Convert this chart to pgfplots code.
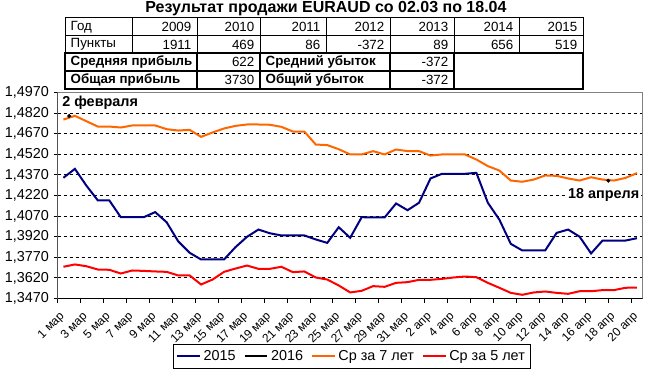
\documentclass[border=0pt]{standalone}
\usepackage{fontspec}
\setmainfont{Liberation Sans}
\usepackage{pgfplots}
\pgfplotsset{compat=1.18}
\definecolor{navy}{RGB}{0,0,128}
\definecolor{xlorange}{RGB}{255,102,0}
\definecolor{xlred}{RGB}{255,0,0}
\newcommand{\tf}{\fontsize{10}{12}\selectfont}
\newcommand{\lf}{\fontsize{10.8}{13}\selectfont}
\newcommand{\xf}{\fontsize{9}{11}\selectfont}
\begin{document}
\begin{tikzpicture}
\path[use as bounding box] (0,0) rectangle (487.5pt,276pt);
\begin{axis}[
  at={(43.275pt,52.125pt)}, anchor=south west,
  scale only axis, width=438.75pt, height=154.5pt,
  xmin=-0.5, xmax=50.5, ymin=1.347, ymax=1.497,
  ytick={1.347,1.362,1.377,1.392,1.407,1.422,1.437,1.452,1.467,1.482,1.497},
  yticklabel style={font=\lf, /pgf/number format/fixed, /pgf/number format/fixed zerofill, /pgf/number format/precision=4, /pgf/number format/use comma, /pgf/number format/assume math mode=true},
  xtick={0,2,...,50},
  xticklabels={1 мар,3 мар,5 мар,7 мар,9 мар,11 мар,13 мар,15 мар,17 мар,19 мар,21 мар,23 мар,25 мар,27 мар,29 мар,31 мар,2 апр,4 апр,6 апр,8 апр,10 апр,12 апр,14 апр,16 апр,18 апр,20 апр},
  xticklabel style={font=\xf, inner sep=0pt, xshift=-3.5pt, yshift=-6pt, rotate=45, anchor=north east},
  minor xtick={-0.5,1.5,...,49.5},
  major x tick style={draw=none},
  tick align=outside, major tick length=3pt, minor tick length=3pt,
  tick style={black, line width=0.75pt},
  xtick pos=bottom, ytick pos=left,
  ymajorgrids, major grid style={black, line width=0.75pt, dash pattern=on 2.25pt off 2.25pt},
  axis line style={gray, line width=0.75pt},
  legend columns=4,
  legend style={at={(0.503,-0.28)}, anchor=center, draw=black, line width=0.75pt, font=\lf,
    inner sep=2.5pt, /tikz/every even column/.append style={column sep=4pt}},
  legend image code/.code={\draw[#1] (0pt,0pt) -- (17pt,0pt);},
]
\draw[black, line width=0.75pt] (rel axis cs:0,1) -- (rel axis cs:0,0) -- (rel axis cs:1,0);
\addplot[navy, line width=1.5pt] coordinates {
(0,1.4349) (1,1.4414) (2,1.4292) (3,1.4184) (4,1.4184) (5,1.4062) (6,1.4062) (7,1.4062) (8,1.4099) (9,1.4025)
(10,1.3887) (11,1.3803) (12,1.3754) (13,1.3754) (14,1.3754) (15,1.3844) (16,1.3919) (17,1.3972) (18,1.3945) (19,1.3929)
(20,1.3929) (21,1.3929) (22,1.3900) (23,1.3875) (24,1.3989) (25,1.3912) (26,1.4062) (27,1.4060) (28,1.4060) (29,1.4162)
(30,1.4113) (31,1.4167) (32,1.4344) (33,1.4378) (34,1.4378) (35,1.4378) (36,1.4385) (37,1.4167) (38,1.4045) (39,1.3868)
(40,1.3820) (41,1.3820) (42,1.3820) (43,1.3948) (44,1.3972) (45,1.3920) (46,1.3798) (47,1.3892) (48,1.3892) (49,1.3892)
(50,1.3909)};
\addlegendentry{2015}
\addlegendimage{black, line width=1.5pt}
\addlegendentry{2016}
\addplot[xlorange, line width=1.5pt] coordinates {
(0,1.4773) (1,1.4800) (2,1.4761) (3,1.4722) (4,1.4722) (5,1.4715) (6,1.4730) (7,1.4730) (8,1.4730) (9,1.4703)
(10,1.4693) (11,1.4698) (12,1.4647) (13,1.4679) (14,1.4708) (15,1.4727) (16,1.4737) (17,1.4737) (18,1.4735) (19,1.4720)
(20,1.4686) (21,1.4686) (22,1.4591) (23,1.4587) (24,1.4557) (25,1.4519) (26,1.4519) (27,1.4543) (28,1.4519) (29,1.4555)
(30,1.4543) (31,1.4543) (32,1.4511) (33,1.4519) (34,1.4519) (35,1.4519) (36,1.4482) (37,1.4434) (38,1.4402) (39,1.4329)
(40,1.4320) (41,1.4336) (42,1.4366) (43,1.4363) (44,1.4344) (45,1.4329) (46,1.4353) (47,1.4336) (48,1.4329) (49,1.4348)
(50,1.4383)};
\addlegendentry{Ср за 7 лет}
\addplot[xlred, line width=1.5pt] coordinates {
(0,1.3701) (1,1.3718) (2,1.3705) (3,1.3681) (4,1.3679) (5,1.3652) (6,1.3674) (7,1.3671) (8,1.3667) (9,1.3664)
(10,1.3638) (11,1.3638) (12,1.3572) (13,1.3608) (14,1.3664) (15,1.3688) (16,1.3710) (17,1.3686) (18,1.3686) (19,1.3701)
(20,1.3662) (21,1.3667) (22,1.3623) (23,1.3608) (24,1.3565) (25,1.3514) (26,1.3526) (27,1.3560) (28,1.3555) (29,1.3584)
(30,1.3589) (31,1.3606) (32,1.3606) (33,1.3613) (34,1.3623) (35,1.3630) (36,1.3625) (37,1.3584) (38,1.3548) (39,1.3511)
(40,1.3497) (41,1.3514) (42,1.3521) (43,1.3511) (44,1.3504) (45,1.3523) (46,1.3523) (47,1.3531) (48,1.3531) (49,1.3548)
(50,1.3550)};
\addlegendentry{Ср за 5 лет}
\addplot[only marks, mark=*, mark size=1.3pt, black, forget plot] coordinates {(0.5,1.4799) (47.5,1.4328)};
\node[font=\bfseries\lf, inner sep=1pt] at (axis cs:3.2,1.4894) {2 февраля};
\node[font=\bfseries\lf, fill=white, inner sep=1pt] at (axis cs:47.1,1.4222) {18 апреля};
\end{axis}
\begin{scope}[x=0.75pt, y=-0.75pt, shift={(0pt,276pt)}]
\node[font=\bfseries\fontsize{12}{14}\selectfont] at (326,8.5) {Результат продажи EURAUD со 02.03 по 18.04};
% rows 1-2 grid
\draw[black, line width=0.75pt] (65,18) rectangle (583,53.5);
\draw[black, line width=0.75pt] (65,35.75) -- (583,35.75);
\foreach \xx in {132,197,260,326,390,454,519} {\draw[black, line width=0.75pt] (\xx,18) -- (\xx,53.5);}
% rows 3-4
\foreach \ya/\yb in {53.5/71.25,71.25/89} {
  \draw[black, line width=1.5pt] (65,\ya) rectangle (197,\yb);
  \draw[black, line width=1.5pt] (197,\ya) rectangle (260,\yb);
  \draw[black, line width=1.5pt] (260,\ya) rectangle (390,\yb);
  \draw[black, line width=1.5pt] (390,\ya) rectangle (454,\yb);
}
\draw[black, line width=1.5pt] (454,53.5) rectangle (583,89);
\node[font=\tf, anchor=west] at (66,26.9) {Год};
\node[font=\tf, anchor=west] at (66,44.6) {Пункты};
\foreach \xr/\ya/\yb in {197/2009/1911,260/2010/469,326/2011/86,390/2012/-372,454/2013/89,519/2014/656,583/2015/519} {
  \node[font=\tf, anchor=east] at (\xr-1,26.9) {\ya};
  \node[font=\tf, anchor=east] at (\xr-1,44.6) {\yb};
}
\node[font=\bfseries\tf, anchor=west] at (66,62.4) {Средняя прибыль};
\node[font=\bfseries\tf, anchor=west] at (66,80.1) {Общая прибыль};
\node[font=\bfseries\tf, anchor=west] at (261,62.4) {Средний убыток};
\node[font=\bfseries\tf, anchor=west] at (261,80.1) {Общий убыток};
\node[font=\tf, anchor=east] at (259,62.4) {622};
\node[font=\tf, anchor=east] at (259,80.1) {3730};
\node[font=\tf, anchor=east] at (453,62.4) {-372};
\node[font=\tf, anchor=east] at (453,80.1) {-372};
\end{scope}
\end{tikzpicture}
\end{document}
